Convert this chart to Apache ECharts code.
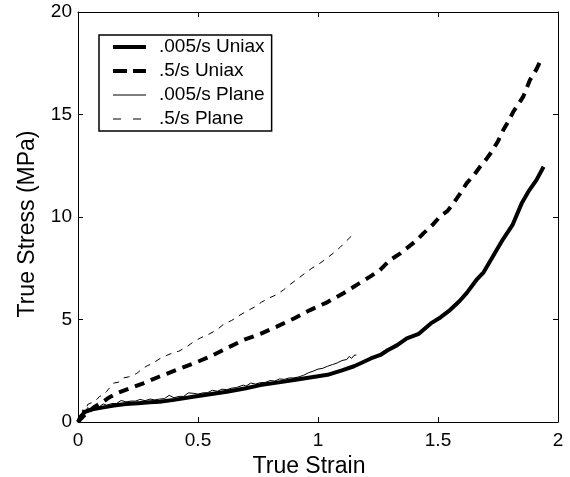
<!DOCTYPE html>
<html>
<head>
<meta charset="utf-8">
<script src="https://cdn.jsdelivr.net/npm/echarts@6/dist/echarts.min.js"></script>
<style>html,body{margin:0;padding:0;background:#fff}#c{width:570px;height:477px}</style>
</head>
<body>
<div id="c"></div>
<script>
var xTicks = [0, 0.5, 1, 1.5, 2];
var yTicks = [0, 5, 10, 15, 20];
var seriesNames = ['.005/s Uniax', '.5/s Uniax', '.005/s Plane', '.5/s Plane'];

var uniaxSlowX = [0,0.01,0.03,0.06,0.1,0.15,0.2,0.25,0.3,0.34,0.4,0.48,0.55,0.62,0.7,0.76,0.83,0.9,0.96,1.04,1.1,1.15,1.18,1.22,1.26,1.29,1.33,1.37,1.42,1.47,1.51,1.55,1.59,1.62,1.66,1.69,1.72,1.77,1.81,1.85,1.88,1.91,1.94];
var uniaxSlowY = [0,0.25,0.5,0.62,0.7,0.8,0.88,0.92,0.96,0.99,1.08,1.23,1.35,1.48,1.65,1.8,1.92,2.05,2.16,2.3,2.52,2.72,2.88,3.1,3.27,3.5,3.75,4.08,4.3,4.81,5.1,5.46,5.9,6.3,6.93,7.3,7.9,8.9,9.6,10.7,11.3,11.8,12.45];

var uniaxFastX = [0,0.02,0.043,0.07,0.105,0.13,0.161,0.21,0.272,0.34,0.411,0.48,0.55,0.62,0.689,0.76,0.828,0.9,0.967,1.04,1.106,1.17,1.217,1.258,1.3,1.34,1.369,1.41,1.439,1.48,1.508,1.54,1.564,1.59,1.619,1.65,1.675,1.7,1.724,1.75,1.772,1.795,1.814,1.835,1.855,1.87,1.883,1.91,1.932];
var uniaxFastY = [0,0.25,0.5,0.75,0.99,1.2,1.4,1.62,1.89,2.22,2.54,2.85,3.19,3.6,4.0,4.3,4.65,5.05,5.46,5.85,6.28,6.75,7.09,7.41,7.9,8.2,8.47,8.85,9.2,9.65,10.02,10.3,10.67,11.1,11.64,12.05,12.45,12.8,13.19,13.7,14.24,14.7,15.14,15.5,15.87,16.3,16.68,17.2,17.74];

var planeSlowX = [0,0.005,0.01,0.02,0.03,0.04,0.05,0.07,0.09,0.105,0.12,0.14,0.16,0.18,0.2,0.22,0.24,0.258,0.28,0.3,0.32,0.34,0.36,0.38,0.4,0.42,0.44,0.46,0.48,0.5,0.52,0.54,0.56,0.58,0.6,0.62,0.64,0.66,0.689,0.7,0.72,0.74,0.76,0.78,0.8,0.82,0.84,0.86,0.88,0.9,0.92,0.94,0.96,0.98,1.0,1.02,1.04,1.06,1.08,1.1,1.12,1.13,1.14,1.15,1.16];
var planeSlowY = [0,0.3,0.15,0.55,0.45,0.7,0.62,0.78,0.75,0.88,0.82,0.9,0.9,1.05,0.98,1.02,1.02,1.1,1.04,1.12,1.08,1.12,1.14,1.3,1.18,1.25,1.25,1.42,1.4,1.36,1.42,1.43,1.55,1.5,1.6,1.58,1.65,1.68,1.8,1.75,1.9,1.85,1.92,1.93,2.02,2.0,2.1,2.08,2.15,2.15,2.2,2.28,2.4,2.48,2.58,2.62,2.72,2.8,2.88,3.0,3.05,3.2,3.1,3.25,3.27];

var planeFastX = [0,0.01,0.02,0.03,0.04,0.05,0.07,0.09,0.105,0.12,0.147,0.17,0.19,0.21,0.245,0.27,0.29,0.31,0.342,0.37,0.4,0.42,0.453,0.48,0.51,0.54,0.578,0.61,0.64,0.675,0.71,0.7375,0.765,0.793,0.825,0.856,0.885,0.918,0.945,0.974,1.005,1.036,1.065,1.092,1.12,1.154];
var planeFastY = [0,0.35,0.6,0.45,0.85,0.91,1.0,1.25,1.32,1.5,1.89,1.95,2.15,2.2,2.37,2.62,2.75,2.85,3.1,3.25,3.4,3.45,3.67,3.9,4.1,4.25,4.49,4.8,4.95,5.22,5.45,5.62,5.85,6.03,6.2,6.44,6.72,7.01,7.25,7.5,7.72,7.98,8.25,8.52,8.85,9.24];

function pairs(xs, ys) { return xs.map(function (x, i) { return [x, ys[i]]; }); }

var FONT = 'Liberation Sans, Arial, sans-serif';
var black = '#000';
function axisCommon() {
  return {
    axisLine: { show: true, onZero: false, lineStyle: { color: black, width: 1 } },
    axisTick: { show: true, inside: true, length: 5, lineStyle: { color: black, width: 1 } },
    splitLine: { show: false }
  };
}
function xa(extra) {
  return Object.assign({
    type: 'value', min: xTicks[0], max: xTicks[xTicks.length - 1], interval: xTicks[1] - xTicks[0]
  }, axisCommon(), extra);
}
function ya(extra) {
  return Object.assign({
    type: 'value', min: yTicks[0], max: yTicks[yTicks.length - 1], interval: yTicks[1] - yTicks[0]
  }, axisCommon(), extra);
}

var styles = [
  { width: 4, type: 'solid' },
  { width: 4, type: [10, 7] },
  { width: 1, type: 'solid' },
  { width: 1, type: [6, 6] }
];
var datas = [pairs(uniaxSlowX, uniaxSlowY), pairs(uniaxFastX, uniaxFastY), pairs(planeSlowX, planeSlowY), pairs(planeFastX, planeFastY)];
var legendStyles = [
  { width: 4, type: 'solid' },
  { width: 4, type: [14, 6] },
  { width: 1.2, type: 'solid' },
  { width: 1.2, type: [8, 12] }
];

var chart = echarts.init(document.getElementById('c'), null, { renderer: 'canvas' });
chart.setOption({
  animation: false,
  backgroundColor: '#fff',
  textStyle: { fontFamily: FONT, color: black },
  grid: { left: 78, right: 12, top: 12, bottom: 55, containLabel: false, outerBoundsMode: 'none' },
  xAxis: [
    xa({ position: 'bottom', name: 'True Strain', nameLocation: 'middle', nameGap: 30,
      nameTextStyle: { fontSize: 23, color: black, fontFamily: FONT, padding: [0, 18, 0, 0] },
      axisLabel: { color: black, fontSize: 19, fontFamily: FONT, margin: 9 } }),
    xa({ position: 'top', axisLabel: { show: false } })
  ],
  yAxis: [
    ya({ position: 'left', name: 'True Stress (MPa)', nameLocation: 'middle', nameGap: 39,
      nameTextStyle: { fontSize: 23, color: black, fontFamily: FONT, padding: [0, 14, 0, 0] },
      axisLabel: { color: black, fontSize: 19, fontFamily: FONT, margin: 6 } }),
    ya({ position: 'right', axisLabel: { show: false } })
  ],
  legend: {
    orient: 'vertical', left: 99, top: 35,
    backgroundColor: '#fff', borderColor: black, borderWidth: 1.5, borderRadius: 0,
    padding: [2, 7, 2, 12], itemGap: 4, itemWidth: 33, itemHeight: 14,
    textStyle: { fontSize: 19, fontFamily: FONT, color: black, lineHeight: 20, padding: [0, 0, 0, 8] },
    data: seriesNames.map(function (n, i) {
      return {
        name: n,
        itemStyle: { color: 'rgba(0,0,0,0)', borderWidth: 0, opacity: 0 },
        lineStyle: { color: black, width: legendStyles[i].width, type: legendStyles[i].type }
      };
    })
  },
  series: seriesNames.map(function (n, i) {
    return {
      name: n, type: 'line', data: datas[i], showSymbol: false, symbol: 'none',
      xAxisIndex: 0, yAxisIndex: 0, z: 10 - i,
      lineStyle: { color: black, width: styles[i].width, type: styles[i].type, join: 'round', cap: 'butt' },
      itemStyle: { color: black }
    };
  })
});
</script>
</body>
</html>
